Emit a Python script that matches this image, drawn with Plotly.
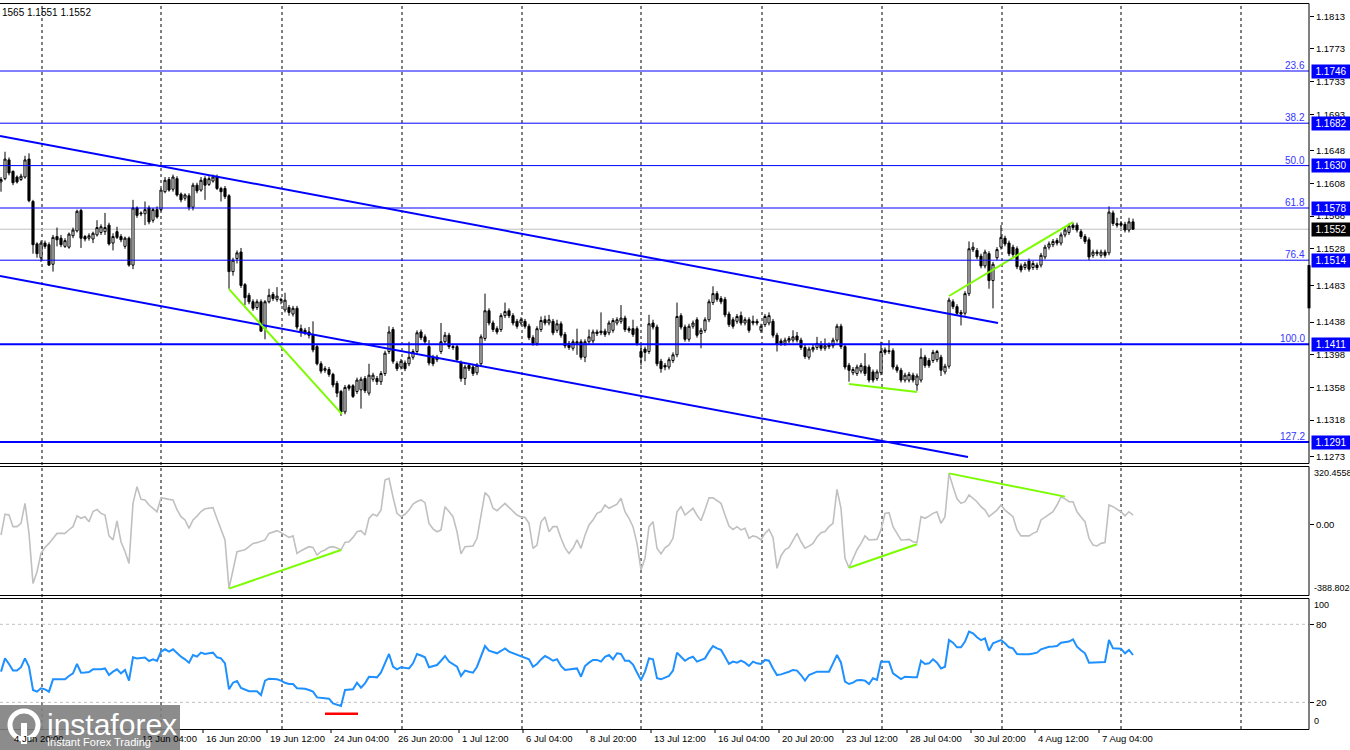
import plotly.graph_objects as go

# ---------------- data (EURUSD H4, prices stored as pips above 1.1000) ----------------
OPEN_PIPS = [
    610, 614, 637, 623, 616, 613, 616, 638, 586, 534,
    517, 535, 533, 509, 543, 541, 531, 530, 544, 550,
    575, 543, 541, 540, 545, 548, 549, 557, 535, 549,
    543, 531, 541, 508, 578, 572, 571, 578, 563, 576,
    576, 598, 613, 601, 614, 595, 590, 593, 579, 606,
    600, 614, 607, 611, 616, 602, 602, 593, 500, 516,
    524, 484, 471, 463, 456, 463, 430, 463, 472, 466,
    466, 453, 456, 448, 455, 430, 428, 426, 422, 408,
    387, 379, 380, 374, 363, 353, 328, 360, 360, 353,
    355, 369, 351, 368, 369, 365, 375, 402, 429, 387,
    383, 388, 387, 395, 402, 426, 420, 408, 395, 392,
    402, 414, 422, 408, 408, 388, 369, 385, 383, 376,
    387, 418, 452, 437, 430, 429, 446, 452, 446, 439,
    437, 439, 433, 419, 412, 429, 441, 437, 439, 428,
    436, 423, 412, 406, 412, 414, 395, 414, 415, 426,
    427, 427, 425, 428, 437, 439, 443, 430, 430, 430,
    402, 405, 402, 437, 432, 390, 385, 383, 391, 398,
    446, 432, 417, 433, 441, 424, 428, 441, 462, 473,
    467, 466, 448, 441, 439, 446, 437, 441, 439, 439,
    428, 435, 437, 439, 422, 415, 412, 415, 416, 421,
    416, 407, 395, 404, 407, 410, 406, 408, 409, 416,
    433, 408, 385, 376, 375, 378, 384, 383, 377, 369,
    376, 404, 403, 403, 383, 379, 367, 367, 373, 361,
    367, 395, 391, 391, 392, 395, 377, 384, 463, 457,
    450, 449, 473, 527, 526, 519, 507, 522, 489, 517,
    530, 541, 535, 530, 528, 507, 505, 513, 505, 508,
    508, 518, 530, 533, 538, 535, 545, 548, 557, 557,
    549, 543, 539, 520, 522, 520, 524, 523, 572, 559,
    559, 558, 551, 561,
]
HIGH_PIPS = [
    616, 647, 640, 624, 618, 620, 642, 645, 588, 536,
    538, 538, 536, 545, 554, 545, 541, 548, 554, 576,
    577, 545, 547, 549, 563, 558, 572, 560, 547, 555,
    546, 543, 543, 588, 580, 574, 586, 581, 578, 580,
    602, 616, 616, 619, 617, 597, 596, 596, 609, 609,
    616, 617, 617, 619, 619, 604, 605, 595, 517, 526,
    529, 486, 474, 466, 466, 466, 465, 479, 475, 481,
    468, 474, 459, 458, 458, 435, 431, 432, 439, 411,
    390, 384, 383, 376, 366, 355, 361, 362, 362, 370,
    371, 372, 387, 376, 372, 378, 403, 433, 432, 390,
    393, 391, 414, 405, 428, 429, 423, 416, 398, 398,
    437, 426, 425, 410, 411, 391, 386, 388, 386, 388,
    423, 473, 455, 440, 433, 449, 462, 455, 449, 442,
    444, 442, 436, 422, 433, 445, 446, 447, 442, 441,
    439, 426, 415, 417, 430, 417, 417, 429, 429, 429,
    450, 430, 440, 443, 444, 459, 446, 433, 441, 433,
    410, 408, 447, 441, 435, 393, 388, 395, 401, 462,
    449, 435, 436, 440, 444, 431, 444, 466, 482, 476,
    470, 469, 451, 444, 448, 451, 444, 444, 446, 442,
    436, 448, 450, 442, 425, 418, 419, 421, 428, 426,
    419, 410, 408, 410, 420, 415, 418, 413, 419, 436,
    436, 411, 388, 383, 386, 388, 400, 386, 380, 380,
    414, 407, 416, 406, 386, 382, 376, 377, 376, 375,
    406, 398, 394, 404, 404, 398, 387, 468, 466, 460,
    453, 476, 537, 536, 529, 522, 527, 525, 512, 530,
    557, 544, 538, 533, 531, 510, 512, 516, 513, 511,
    523, 533, 537, 540, 541, 548, 554, 559, 560, 560,
    552, 546, 542, 527, 527, 527, 527, 580, 575, 566,
    562, 561, 566, 565,
]
LOW_PIPS = [
    598, 612, 618, 606, 608, 611, 614, 585, 522, 517,
    512, 528, 507, 500, 531, 530, 529, 528, 541, 548,
    529, 537, 538, 535, 543, 545, 545, 532, 526, 540,
    536, 528, 506, 503, 566, 568, 557, 558, 560, 565,
    574, 596, 598, 598, 592, 585, 587, 575, 575, 596,
    598, 588, 605, 609, 600, 586, 589, 479, 495, 510,
    480, 459, 460, 452, 453, 426, 417, 461, 464, 463,
    460, 450, 446, 445, 429, 420, 422, 418, 401, 385,
    375, 376, 371, 358, 346, 323, 325, 354, 345, 350,
    332, 351, 348, 365, 361, 361, 372, 399, 387, 378,
    380, 378, 384, 392, 399, 416, 411, 385, 384, 389,
    399, 411, 405, 404, 389, 365, 361, 378, 372, 373,
    384, 415, 434, 426, 423, 426, 443, 443, 434, 430,
    434, 430, 416, 409, 409, 426, 434, 434, 422, 425,
    419, 406, 404, 403, 398, 392, 389, 411, 412, 421,
    422, 420, 422, 425, 434, 436, 426, 425, 420, 409,
    385, 390, 399, 429, 384, 376, 379, 380, 388, 395,
    429, 414, 414, 430, 419, 406, 425, 438, 459, 463,
    460, 444, 432, 430, 436, 434, 434, 425, 434, 434,
    425, 432, 434, 419, 402, 409, 409, 412, 413, 413,
    404, 393, 392, 401, 404, 403, 403, 405, 406, 413,
    405, 380, 365, 373, 372, 375, 372, 364, 364, 366,
    373, 398, 399, 380, 376, 364, 364, 364, 364, 354,
    364, 382, 382, 388, 389, 372, 374, 381, 454, 446,
    434, 446, 470, 524, 515, 504, 504, 479, 455, 514,
    527, 531, 519, 518, 503, 499, 502, 500, 502, 502,
    505, 515, 527, 530, 532, 532, 542, 545, 551, 548,
    540, 534, 514, 517, 519, 517, 517, 520, 556, 554,
    554, 548, 548, 551,
]
CLOSE_PIPS = [
    613, 638, 621, 609, 610, 617, 637, 587, 533, 522,
    535, 531, 508, 542, 539, 533, 538, 546, 551, 574,
    541, 540, 544, 547, 554, 555, 554, 534, 543, 542,
    539, 541, 508, 578, 569, 571, 576, 561, 576, 567,
    600, 612, 600, 616, 594, 588, 594, 579, 606, 599,
    612, 606, 614, 616, 602, 598, 592, 500, 514, 523,
    483, 468, 463, 455, 463, 427, 463, 471, 467, 470,
    465, 465, 450, 455, 432, 426, 425, 422, 404, 387,
    378, 381, 374, 361, 351, 328, 358, 357, 347, 367,
    368, 354, 373, 373, 365, 375, 400, 426, 390, 381,
    390, 381, 395, 402, 425, 419, 414, 388, 387, 395,
    414, 422, 408, 407, 392, 369, 383, 381, 375, 385,
    420, 452, 437, 429, 426, 446, 451, 446, 437, 433,
    441, 433, 419, 412, 430, 440, 437, 441, 425, 436,
    422, 409, 407, 414, 414, 395, 414, 420, 426, 424,
    425, 423, 437, 440, 441, 443, 429, 428, 423, 412,
    395, 401, 436, 432, 387, 381, 383, 392, 398, 445,
    432, 417, 433, 437, 422, 428, 441, 463, 473, 466,
    463, 447, 435, 433, 445, 437, 441, 428, 437, 437,
    433, 445, 446, 422, 411, 412, 416, 418, 420, 416,
    407, 396, 405, 407, 412, 406, 409, 410, 416, 433,
    408, 383, 379, 380, 383, 385, 375, 367, 367, 377,
    402, 401, 402, 383, 379, 367, 373, 374, 367, 372,
    395, 385, 385, 401, 402, 379, 384, 465, 457, 449,
    448, 473, 528, 530, 518, 507, 524, 489, 509, 527,
    542, 534, 522, 521, 506, 502, 509, 503, 510, 505,
    520, 530, 534, 537, 535, 545, 551, 556, 554, 551,
    543, 537, 518, 524, 524, 524, 520, 573, 559, 557,
    557, 551, 561, 552,
]
CCI = [
    -59, 56, 51, -13, -13, 5, 115, -50, -325, -261,
    -160, -127, -105, -80, -50, -50, -50, -30, -13, 46,
    33, 42, 14, 70, 82, 60, 51, -64, -86, 18,
    -96, -150, -215, 115, 207, 137, 134, 106, 90, 69,
    146, 140, 137, 134, 80, 42, 24, -22, 24, 45,
    70, 85, 88, 91, 30, -31, -86, -352, -250, -151,
    -145, -140, -123, -105, -101, -95, -86, -50, -42, -35,
    -46, -60, -72, -64, -160, -145, -132, -123, -127, -169,
    -150, -141, -127, -123, -130, -141, -100, -96, -72, -41,
    -35, -59, 33, 55, 46, 78, 243, 253, 150, 60,
    42, 55, 78, 111, 125, 134, 119, 5, -25, -41,
    -31, 97, 70, 42, -41, -163, -123, -121, -119, -77,
    50, 174, 152, 88, 75, 95, 115, 93, 70, 51,
    40, 38, 5, -132, -114, 14, 40, -41, -13, -13,
    -77, -130, -160, -132, -86, -132, -60, -4, 24, 60,
    70, 106, 88, 100, 111, 143, 69, 33, -13, -105,
    -251, -187, -13, 14, -132, -163, -130, -114, -77, 69,
    97, 51, 70, 88, 50, 20, 80, 146, 145, 130,
    115, 51, -10, -28, -13, -31, -22, -77, -64, -70,
    -86, -50, -28, -72, -242, -174, -140, -127, -86, -50,
    -96, -132, -120, -105, -70, -46, -40, -13, 5, 192,
    88, -187, -239, -190, -140, -105, -64, -86, -85, -83,
    -31, 60, 64, -13, -50, -86, -85, -83, -96, -101,
    42, 33, 45, 60, 69, 5, 42, 280, 207, 140,
    115, 124, 161, 140, 124, 97, 78, 42, 60, 78,
    106, 78, 60, 42, -31, -64, -64, -64, -50, -41,
    24, 40, 51, 69, 106, 150, 140, 124, 124, 69,
    40, 14, -77, -114, -119, -105, -101, 106, 97, 85,
    69, 46, 69, 51,
]
RSI = [
    43.6, 53.8, 49.5, 44.4, 44.4, 47, 53.8, 47.4, 29.5, 28.2,
    30.8, 30, 28.2, 37.7, 37.7, 37.7, 37.7, 40.3, 42.3, 49.5,
    42.8, 43, 43.3, 45.4, 45.4, 45.4, 46.1, 41, 43.6, 45.4,
    42.3, 44.9, 36.7, 54.6, 53.8, 54, 54.4, 51.8, 53.1, 51.8,
    59, 60.8, 59, 60.8, 58, 55.1, 53.1, 50.5, 56.4, 55.1,
    58.2, 57.2, 57.7, 58.2, 54.6, 53.8, 50, 30, 35.1, 36.4,
    31, 30, 28.5, 28.5, 28.5, 25.6, 36.7, 38.2, 38, 37.7,
    36.7, 35, 34.1, 34.1, 30.8, 30.7, 30.5, 29.5, 28.2, 23.8,
    23.5, 23.1, 22.8, 19.2, 18, 17.2, 29.5, 29.8, 30, 35.1,
    31.3, 34.6, 39.7, 39.5, 39.2, 43, 50, 57.2, 47.5, 45.4,
    47, 46.5, 46.1, 50, 57.2, 56, 54.6, 47, 48, 48.7,
    52, 55.6, 51.3, 49, 47.4, 40.3, 44.4, 43.5, 42.8, 47.4,
    55, 63.3, 59.7, 58.5, 57.7, 59.5, 61.5, 59, 57.7, 56.5,
    55.6, 54, 53.1, 47.4, 49.5, 53, 55.6, 54, 52, 53.1,
    48, 44.9, 45.2, 45.4, 46.1, 39.7, 47.9, 50.5, 52.6, 52.6,
    51.3, 55, 56.4, 53.1, 57.7, 57.2, 52, 52, 49, 43,
    37.2, 43.6, 53.8, 53.1, 38.5, 37.7, 39, 40.3, 44.4, 58.2,
    55.1, 52, 54, 55.1, 51.3, 52.5, 53.8, 59, 63.3, 61.5,
    60.3, 55.1, 49.5, 51.3, 50.5, 52, 50.5, 48, 51.3, 50,
    49.5, 52.6, 52, 46.1, 41, 41.5, 42.3, 43.5, 44.9, 44.4,
    41, 36.7, 41, 42.5, 43.6, 43.6, 43.6, 43.6, 50, 56.4,
    50.5, 35.9, 34.1, 35.1, 37, 37.2, 36.7, 34.1, 38.5, 37.2,
    51.3, 51.3, 51.3, 42.3, 40, 37.9, 39.7, 39.2, 39.2, 39.2,
    52, 49.5, 50, 53.1, 50.5, 46.1, 47.4, 67.9, 65.9, 62.3,
    62.3, 66.7, 74.4, 73.1, 70, 67.9, 69.2, 59.7, 65.4, 66.7,
    67.9, 65.4, 62.3, 61.5, 57.2, 56.9, 56.9, 56.9, 57.5, 58.2,
    60.8, 62, 62.8, 63, 63.3, 65.9, 66.3, 66.7, 68.5, 62.8,
    60, 57.7, 50.5, 50.5, 50.5, 50.7, 51, 67.9, 61.5, 61.4,
    61.3, 57.7, 60.3, 56.4,
]

TIME_LABEL_BARS = [2, 34, 50, 66, 82, 98, 114, 130, 146, 162, 178, 194, 210, 226, 242, 258, 274]
TIME_LABELS = ["4 Jun 20:00", "12 Jun 04:00", "16 Jun 20:00", "19 Jun 12:00", "24 Jun 04:00",
               "26 Jun 20:00", "1 Jul 12:00", "6 Jul 04:00", "8 Jul 20:00", "13 Jul 12:00",
               "16 Jul 04:00", "20 Jul 20:00", "23 Jul 12:00", "28 Jul 04:00", "30 Jul 20:00",
               "4 Aug 12:00", "7 Aug 04:00"]

PRICE_TICKS = [1.1813, 1.1773, 1.1733, 1.1693, 1.1648, 1.1608, 1.1568, 1.1528,
               1.1483, 1.1438, 1.1398, 1.1358, 1.1318, 1.1273]
FIB_NAMES = ["23.6", "38.2", "50.0", "61.8", "76.4", "100.0", "127.2"]
FIB_PRICES = [1.1746, 1.1682, 1.1630, 1.1578, 1.1514, 1.1411, 1.1291]
FIB_WIDTHS = [1, 1, 1, 1, 1, 2, 2]
CURRENT_PRICE = 1.1552
HEADER = "1565 1.1551 1.1552"

CHANNEL_UPPER = [(-0.25, 1.16663), (249.25, 1.1437)]
CHANNEL_LOWER = [(-0.25, 1.14946), (241.75, 1.12726)]
PRICE_GREEN = [[(57, 1.14786), (85.25, 1.13253)],
               [(212, 1.13621), (229, 1.13523)],
               [(237, 1.14701), (268, 1.15608)]]
CCI_GREEN = [[(57, -354), (85, -141)],
             [(212, -239), (229, -110)],
             [(237, 280), (266, 152)]]
RSI_RED = [(81, 11.2), (89.25, 11.2)]
CCI_MAX, CCI_MIN = 320.4558, -388.8028
RSI_LEVELS = [80, 20]
GRID_BARS = [10.25, 40, 70.25, 100.25, 130.25, 160, 190.25, 220.25, 250.25, 280, 310]
AXIS_MARK = (1.1508, 1.1455)

# ---------------- figure ----------------
FONT = "Liberation Sans, Arial, sans-serif"
FS = 9
W, H = 1350, 750
MT, MB, ML, MR = 3, 21, 0, 41
PH = H - MT - MB  # plot height in px
PW = W - ML - MR


def pdom(top_px, bot_px):
    return [(H - MB - bot_px) / PH, (H - MB - top_px) / PH]


D_MAIN = pdom(3, 463)
D_CCI = pdom(466, 595)
D_RSI = pdom(597, 729)


def price(v):
    return round(1.1 + v / 10000.0, 4)


opens = [price(v) for v in OPEN_PIPS]
highs = [price(v) for v in HIGH_PIPS]
lows = [price(v) for v in LOW_PIPS]
closes = [price(v) for v in CLOSE_PIPS]

fig = go.Figure()

fig.add_trace(go.Candlestick(
    x=list(range(len(closes))), open=opens, high=highs, low=lows, close=closes,
    xaxis="x", yaxis="y",
    increasing=dict(line=dict(color="black", width=1), fillcolor="white"),
    decreasing=dict(line=dict(color="black", width=1), fillcolor="black"),
    whiskerwidth=0, hoverinfo="skip", showlegend=False))

# channel lines
for ln in (CHANNEL_UPPER, CHANNEL_LOWER):
    fig.add_trace(go.Scatter(x=[p[0] for p in ln], y=[p[1] for p in ln], mode="lines",
                             line=dict(color="#0000ff", width=2), xaxis="x", yaxis="y",
                             hoverinfo="skip", showlegend=False))
for ln in PRICE_GREEN:
    fig.add_trace(go.Scatter(x=[p[0] for p in ln], y=[p[1] for p in ln], mode="lines",
                             line=dict(color="#7cfc00", width=2), xaxis="x", yaxis="y",
                             hoverinfo="skip", showlegend=False))

# CCI
fig.add_trace(go.Scatter(x=list(range(len(CCI))), y=CCI, mode="lines",
                         line=dict(color="#c0c0c0", width=1.6), xaxis="x", yaxis="y2",
                         hoverinfo="skip", showlegend=False))
for ln in CCI_GREEN:
    fig.add_trace(go.Scatter(x=[p[0] for p in ln], y=[p[1] for p in ln], mode="lines",
                             line=dict(color="#7cfc00", width=2), xaxis="x", yaxis="y2",
                             hoverinfo="skip", showlegend=False))

# RSI
fig.add_trace(go.Scatter(x=list(range(len(RSI))), y=RSI, mode="lines",
                         line=dict(color="#1e90ff", width=2), xaxis="x", yaxis="y3",
                         hoverinfo="skip", showlegend=False))
fig.add_trace(go.Scatter(x=[p[0] for p in RSI_RED], y=[p[1] for p in RSI_RED], mode="lines",
                         line=dict(color="#ff0000", width=2.5), xaxis="x", yaxis="y3",
                         hoverinfo="skip", showlegend=False))

shapes = []
# vertical dashed grid
for g in GRID_BARS:
    shapes.append(dict(type="line", xref="x", yref="paper", x0=g, x1=g, y0=0, y1=1,
                       line=dict(color="black", width=1, dash="3px,3px"), layer="below"))
# current price line
shapes.append(dict(type="line", xref="paper", yref="y", x0=0, x1=1, y0=CURRENT_PRICE, y1=CURRENT_PRICE,
                   line=dict(color="#c0c0c0", width=1), layer="below"))
# fib lines
for p, w in zip(FIB_PRICES, FIB_WIDTHS):
    shapes.append(dict(type="line", xref="paper", yref="y", x0=0, x1=1, y0=p, y1=p,
                       line=dict(color="#0000ff", width=w)))
# RSI levels
for lv in RSI_LEVELS:
    shapes.append(dict(type="line", xref="paper", yref="y3", x0=0, x1=1, y0=lv, y1=lv,
                       line=dict(color="#c0c0c0", width=1, dash="3px,3px"), layer="below"))
# panel borders (snapped to pixel centres)
for top_px, bot_px in ((3, 463), (466, 595), (598, 729)):
    for py in (top_px, bot_px):
        yy = (H - MB - py - 0.5) / PH
        shapes.append(dict(type="line", xref="paper", yref="paper", x0=0, x1=1, y0=yy, y1=yy,
                           line=dict(color="black", width=1)))
    shapes.append(dict(type="line", xref="paper", yref="paper", x0=1, x1=1,
                       y0=(H - MB - bot_px - 0.5) / PH, y1=(H - MB - top_px - 0.5) / PH,
                       line=dict(color="black", width=1)))
# black mark on price axis
shapes.append(dict(type="line", xref="paper", yref="y", x0=1, x1=1, y0=AXIS_MARK[0], y1=AXIS_MARK[1],
                   line=dict(color="black", width=3)))
# time ticks
for b in TIME_LABEL_BARS:
    shapes.append(dict(type="line", xref="x", yref="paper", x0=b + 0.5, x1=b + 0.5,
                       ysizemode="pixel", yanchor=0, y0=0, y1=-4,
                       line=dict(color="black", width=1)))

ann = []
ann.append(dict(text=HEADER, xref="paper", yref="paper", x=0, y=1, xanchor="left", yanchor="top",
                yshift=-2, showarrow=False, font=dict(family=FONT, size=FS + 1, color="black")))
for name, p in zip(FIB_NAMES, FIB_PRICES):
    ann.append(dict(text=name, xref="paper", yref="y", x=1, y=p, xanchor="right", yanchor="bottom",
                    xshift=-2, yshift=-2, showarrow=False,
                    font=dict(family=FONT, size=FS + 1, color="#3535ff")))
    ann.append(dict(text=f"{p:.4f}", xref="paper", yref="y", x=1, y=p, xanchor="left", yanchor="middle",
                    xshift=2, showarrow=False, bgcolor="#0000ff", width=36, height=11,
                    font=dict(family=FONT, size=FS + 1, color="white")))
ann.append(dict(text=f"{CURRENT_PRICE:.4f}", xref="paper", yref="y", x=1, y=CURRENT_PRICE,
                xanchor="left", yanchor="middle", xshift=2, showarrow=False, bgcolor="black",
                width=36, height=11, font=dict(family=FONT, size=FS + 1, color="white")))
# indicator scale labels
ann.append(dict(text=f"{CCI_MAX:.4f}", xref="paper", yref="y2", x=1, y=CCI_MAX, xanchor="left",
                yanchor="top", xshift=3, showarrow=False, font=dict(family=FONT, size=FS, color="black")))
ann.append(dict(text=f"{CCI_MIN:.4f}", xref="paper", yref="y2", x=1, y=CCI_MIN, xanchor="left",
                yanchor="bottom", xshift=3, showarrow=False, font=dict(family=FONT, size=FS, color="black")))
ann.append(dict(text="100", xref="paper", yref="y3", x=1, y=100, xanchor="left",
                yanchor="top", xshift=3, showarrow=False, font=dict(family=FONT, size=FS, color="black")))
ann.append(dict(text="0", xref="paper", yref="y3", x=1, y=0, xanchor="left",
                yanchor="bottom", xshift=3, showarrow=False, font=dict(family=FONT, size=FS, color="black")))
# time labels
for b, t in zip(TIME_LABEL_BARS, TIME_LABELS):
    ann.append(dict(text=t, xref="x", yref="paper", x=b + 0.5, y=0, xanchor="left", yanchor="top",
                    xshift=1, yshift=-2, showarrow=False, font=dict(family=FONT, size=FS + 0.5, color="black")))

# logo
shapes.append(dict(type="rect", xref="paper", yref="paper", x0=0, x1=180 / PW,
                   y0=(H - MB - 750) / PH, y1=(H - MB - 705) / PH,
                   fillcolor="rgba(128,128,128,0.9)", line=dict(width=0)))
shapes.append(dict(type="circle", xref="paper", yref="paper",
                   x0=10 / PW, x1=38 / PW, y0=(H - MB - 739) / PH, y1=(H - MB - 711) / PH,
                   line=dict(color="white", width=5)))
shapes.append(dict(type="rect", xref="paper", yref="paper",
                   x0=21 / PW, x1=27 / PW, y0=(H - MB - 744) / PH, y1=(H - MB - 723) / PH,
                   fillcolor="white", line=dict(width=0)))
ann.append(dict(text="instaforex", xref="paper", yref="paper", x=112 / PW, y=(H - MB - 724) / PH,
                xanchor="center", yanchor="middle", showarrow=False,
                font=dict(family="Liberation Sans, Arial", size=30, color="white")))
ann.append(dict(text="Instant Forex Trading", xref="paper", yref="paper", x=99 / PW,
                y=(H - MB - 742) / PH, xanchor="center", yanchor="middle", showarrow=False,
                font=dict(family="Liberation Sans, Arial", size=11, color="white")))

yax_common = dict(side="right", anchor="x", showgrid=False, zeroline=False, showline=False,
                  ticks="outside", ticklen=4, tickcolor="black", fixedrange=True,
                  tickfont=dict(family=FONT, size=FS + 0.5, color="black"))

fig.update_layout(
    width=W, height=H, margin=dict(l=ML, r=MR, t=MT, b=MB, autoexpand=False),
    paper_bgcolor="white", plot_bgcolor="white", showlegend=False, boxgap=0.25,
    font=dict(family=FONT, size=FS, color="black"),
    xaxis=dict(domain=[0, 1], range=[-0.25, 327], anchor="y3", showgrid=False, zeroline=False,
               showticklabels=False, ticks="", rangeslider=dict(visible=False), fixedrange=True,
               showline=False),
    yaxis=dict(domain=D_MAIN, range=[1.12653, 1.18294], tickvals=PRICE_TICKS,
               ticktext=[f"{v:.4f}" for v in PRICE_TICKS], **yax_common),
    yaxis2=dict(domain=D_CCI, range=[CCI_MIN, CCI_MAX], tickvals=[0], ticktext=["0.00"], **yax_common),
    yaxis3=dict(domain=D_RSI, range=[-0.5, 101], tickvals=RSI_LEVELS,
                ticktext=[str(v) for v in RSI_LEVELS], **yax_common),
    shapes=shapes, annotations=ann, hovermode=False,
)

fig.write_html("out.html", config={"displayModeBar": False},
               post_script="document.body.style.margin='0px';document.body.style.padding='0px';"
                           "document.body.style.overflow='hidden';")
